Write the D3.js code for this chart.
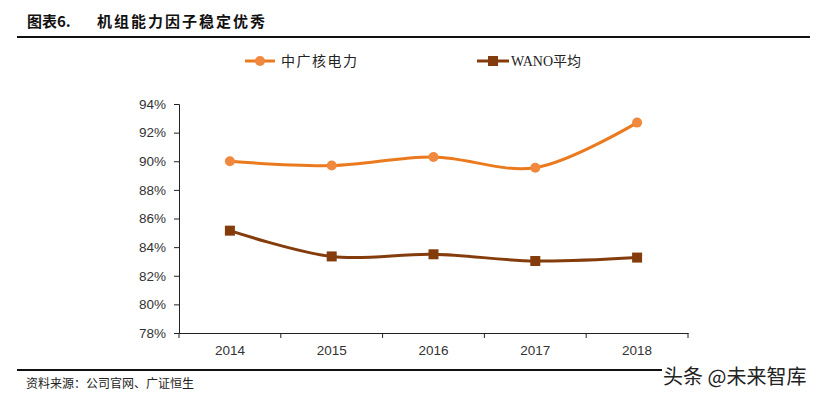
<!DOCTYPE html>
<html><head><meta charset="utf-8">
<script src="https://cdn.jsdelivr.net/npm/d3@7"></script>
<style>body{margin:0;background:#fff}svg{display:block}</style>
</head><body>
<svg id="c" width="827" height="400"></svg>
<script>
const years = ["2014","2015","2016","2017","2018"];
const cgnValues = [90.0, 89.7, 90.3, 89.55, 92.7];
const wanoValues = [85.15, 83.35, 83.5, 83.03, 83.27];
const yTicks = [78,80,82,84,86,88,90,92,94];
const seriesNames = ["中广核电力","WANO平均"];

const svg = d3.select("#c");
const cjk = "'Noto Sans CJK SC','Noto Sans',sans-serif";
const num = "'Liberation Sans','DejaVu Sans',sans-serif";

// title
svg.append("text").attr("x",27).attr("y",27).attr("font-family",cjk).attr("font-weight","bold")
  .attr("font-size",15).attr("fill","#111").text("图表6.");
svg.append("text").attr("x",97).attr("y",27).attr("font-family",cjk).attr("font-weight","bold")
  .attr("font-size",15).attr("fill","#111").attr("letter-spacing",2).text("机组能力因子稳定优秀");
svg.append("line").attr("x1",17).attr("x2",810).attr("y1",37).attr("y2",37).attr("stroke","#111").attr("stroke-width",2);

const x = d3.scaleBand().domain(years).range([179,688]);
const y = d3.scaleLinear().domain([78,94]).range([333,104]);

const gy = svg.append("g").attr("transform","translate(179,0)")
  .call(d3.axisLeft(y).tickValues(yTicks).tickSize(5).tickPadding(8).tickFormat(d=>d+"%"));
gy.select(".domain").attr("stroke","#222");
gy.selectAll(".tick line").attr("stroke","#222");
gy.selectAll("text").attr("font-family",num).attr("font-size",13.5).attr("fill","#333");

const gx = svg.append("g").attr("transform","translate(0,333)")
  .call(d3.axisBottom(x).tickSize(0).tickPadding(12));
gx.select(".domain").attr("stroke","#222");
gx.selectAll("text").attr("font-family",num).attr("font-size",13.5).attr("fill","#333");
// category boundary ticks
svg.append("g").selectAll("line").data(years.concat(["end"])).join("line")
  .attr("x1",(d,i)=> i<years.length ? x(d) : x(years[years.length-1])+x.bandwidth())
  .attr("x2",(d,i)=> i<years.length ? x(d) : x(years[years.length-1])+x.bandwidth())
  .attr("y1",333).attr("y2",338).attr("stroke","#222");

const cx = d => x(d)+x.bandwidth()/2;
const line = d3.line().x((d,i)=>cx(years[i])).y(d=>y(d)).curve(d3.curveCatmullRom.alpha(0.5));

const orange = "#EB7A1E", orangeM = "#F0883E", brown = "#843C0C";
svg.append("path").datum(cgnValues).attr("d",line).attr("fill","none").attr("stroke",orange).attr("stroke-width",3);
svg.append("g").selectAll("circle").data(cgnValues).join("circle")
  .attr("cx",(d,i)=>cx(years[i])).attr("cy",d=>y(d)).attr("r",5).attr("fill",orangeM);

svg.append("path").datum(wanoValues).attr("d",line).attr("fill","none").attr("stroke",brown).attr("stroke-width",3);
svg.append("g").selectAll("rect").data(wanoValues).join("rect")
  .attr("x",(d,i)=>cx(years[i])-5).attr("y",d=>y(d)-5).attr("width",10).attr("height",10).attr("fill",brown);

// legend
const lg = svg.append("g");
lg.append("line").attr("x1",245).attr("x2",275).attr("y1",61).attr("y2",61).attr("stroke",orange).attr("stroke-width",3);
lg.append("circle").attr("cx",260).attr("cy",61).attr("r",5).attr("fill",orangeM);
lg.append("text").attr("x",281).attr("y",66).attr("font-family",cjk).attr("font-size",14).attr("fill","#222").attr("letter-spacing",1.5).text(seriesNames[0]);
lg.append("line").attr("x1",477).attr("x2",509).attr("y1",61).attr("y2",61).attr("stroke",brown).attr("stroke-width",3);
lg.append("rect").attr("x",488).attr("y",56).attr("width",10).attr("height",10).attr("fill",brown);
lg.append("text").attr("x",511).attr("y",66).attr("font-family","'Liberation Serif',"+cjk).attr("font-size",14).attr("fill","#222").text(seriesNames[1]);

// footer
svg.append("line").attr("x1",17).attr("x2",810).attr("y1",370).attr("y2",370).attr("stroke","#111").attr("stroke-width",2);
svg.append("text").attr("x",26).attr("y",388).attr("font-family",cjk).attr("font-size",12).attr("fill","#222").text("资料来源：公司官网、广证恒生");
svg.append("rect").attr("x",662).attr("y",362).attr("width",160).attr("height",28).attr("fill","#fff");
svg.append("text").attr("x",663).attr("y",384).attr("font-family",cjk).attr("font-size",20).attr("fill","#222")
  .text("头条 @未来智库");
</script>
</body></html>
